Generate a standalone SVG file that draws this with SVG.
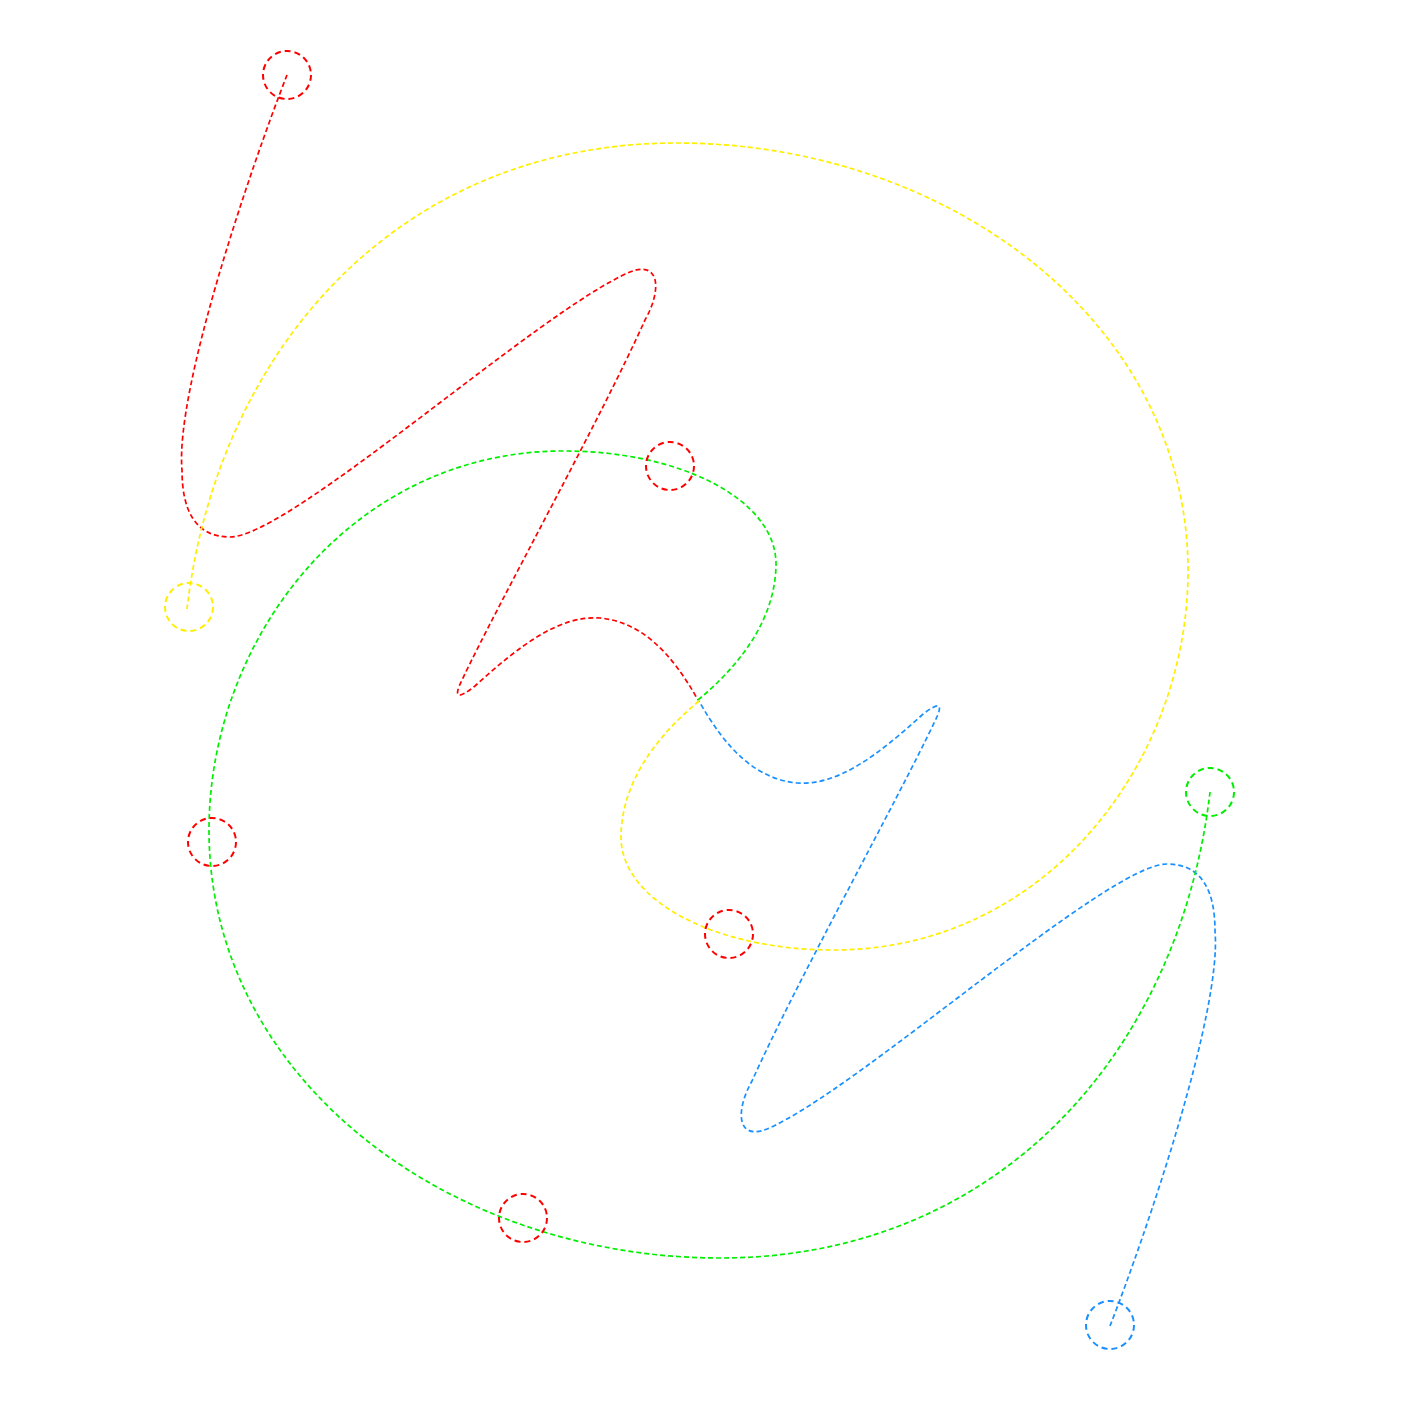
<svg xmlns="http://www.w3.org/2000/svg" width="1401" height="1401" viewBox="0 0 1401 1401">
<style>
.bg{fill:#ffffff}
.c{fill:none;stroke-width:1.7;stroke-dasharray:5 3}
.n{fill:none;stroke-width:2;stroke-dasharray:6 4}
.red{stroke:#ff0000}
.yel{stroke:#ffee00}
.grn{stroke:#00ee00}
.blu{stroke:#1a90ff}
</style>
<defs>
<path id="redPath" d="M287,75 C250,170 175,390 182,470 C182,510 195,537 230,537 C290,537 540,310 630,272 C660,260 662,290 645,320 C600,420 500,600 462,680 C452,700 460,698 475,686 C520,645 560,615 600,618 C640,622 670,650 698,700"/>
<path id="greenPath" d="M698,700 C740,665 775,620 776,565 C777,500 680,450 560,451 C350,453 209,640 209,830 C209,1080 450,1258 720,1258 C1000,1258 1180,1050 1210,792"/>
</defs>
<rect class="bg" x="0" y="0" width="1401" height="1401"/>
<g id="connectors">
<use href="#redPath" class="c red"/>
<use href="#redPath" class="c blu" transform="rotate(180 698.5 700.5)"/>
<use href="#greenPath" class="c grn"/>
<use href="#greenPath" class="c yel" transform="rotate(180 698.5 700.5)"/>
</g>
<g id="node-red-start"><circle class="n red" cx="287" cy="75" r="24"/></g>
<g id="node-yellow-end"><circle class="n yel" cx="189" cy="607" r="24"/></g>
<g id="node-red-2"><circle class="n red" cx="670" cy="466" r="24"/></g>
<g id="node-red-3"><circle class="n red" cx="212" cy="842" r="24"/></g>
<g id="node-red-4"><circle class="n red" cx="729" cy="934" r="24"/></g>
<g id="node-red-5"><circle class="n red" cx="523" cy="1218" r="24"/></g>
<g id="node-green-end"><circle class="n grn" cx="1210" cy="792" r="24"/></g>
<g id="node-blue-end"><circle class="n blu" cx="1110" cy="1325" r="24"/></g>
</svg>
